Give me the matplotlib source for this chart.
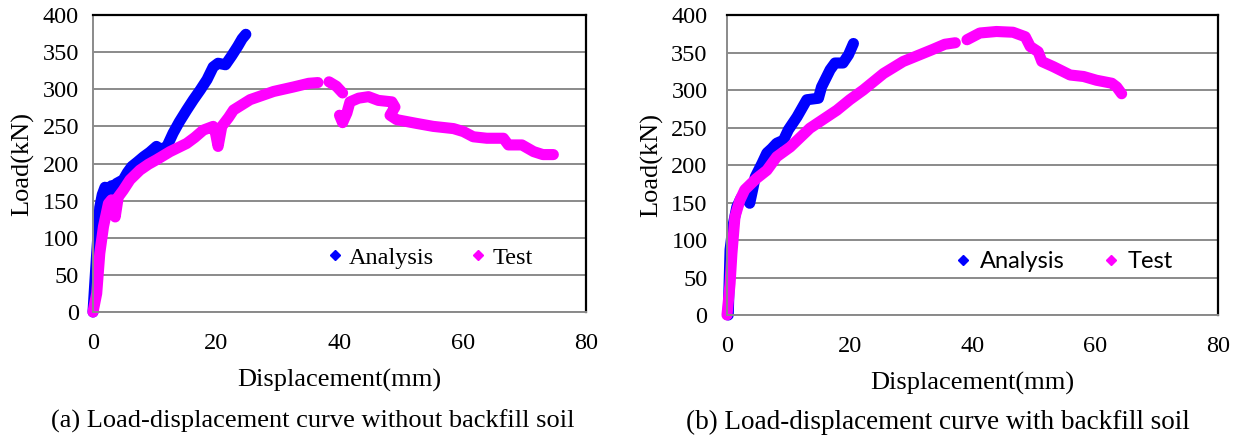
import matplotlib
matplotlib.use('Agg')
import matplotlib.pyplot as plt
import numpy as np
from matplotlib.lines import Line2D

nan = np.nan

# ---------------- data ----------------
x_ticks = [0, 20, 40, 60, 80]
y_ticks = [0, 50, 100, 150, 200, 250, 300, 350, 400]

# (a) without backfill soil
a_analysis_disp = [0, 0.3, 0.6, 1.1, 1.5, 1.95, 2.5, 3.0, 3.3, 3.8, 4.9, 5.6, 6.3, 7.2, 8.2,
                   9.2, 10.3, 11.0, 12.0, 13.0, 14.0, 15.2, 16.3, 17.4, 18.5, 19.5, 20.3,
                   21.5, 22.5, 23.5, 24.2, 24.8]
a_analysis_load = [0, 40, 79, 141, 158, 168, 160, 170, 162, 173, 178, 188, 196, 202, 209,
                   215, 223, 219, 223, 241, 256, 272, 286, 299, 313, 330, 335,
                   333, 345, 358, 368, 374]

a_test_disp = [0, 0.6, 1.1, 1.7, 2.5, 3.0, 3.4, 3.6, 4.1, 4.9, 6.0, 7.6, 9.0, 10.3, 12.5,
               15.2, 16.5, 17.9, 19.5, 19.9, 20.3, 20.9, 22.0, 22.8, 25.5, 29.3, 32.5,
               35.0, 36.5, nan, 38.3, 39.5, 40.5, nan, 40.0, 40.5, 41.2, 41.7, 43.1, 44.7,
               46.3, 48.5, 49.0, 48.2, 49.3, 52.5, 55.2, 58.5, 60.1, 61.7, 63.9, 66.6,
               67.4, 69.6, 71.5, 73.0, 74.7]
a_test_load = [0, 25, 79, 115, 146, 151, 140, 128, 155, 164, 178, 191, 199, 205, 216,
               227, 235, 245, 250, 240, 223, 250, 262, 272, 286, 297, 303,
               308, 309, nan, 310, 304, 295, nan, 265, 255, 268, 283, 288, 290,
               285, 283, 276, 265, 259, 254, 250, 247, 243, 236, 234, 234,
               225, 225, 216, 212, 212]

# (b) with backfill soil
b_analysis_disp = [0.2, 0.5, 1.0, 1.6, 2.3, 2.9, 3.3, 3.7, 4.2, 4.6, 5.7, 6.5, 7.3, 8.1,
                   9.2, 10.0, 11.4, 13.0, 14.9, 15.4, 16.8, 17.6, 18.9, 19.8, 20.6]
b_analysis_load = [0, 87, 120, 144, 156, 162, 155, 149, 168, 184, 202, 216, 222, 229,
                   233, 247, 264, 287, 289, 304, 327, 336, 336, 347, 362]

b_test_disp = [0, 0.5, 0.8, 1.3, 2.1, 2.9, 4.8, 6.5, 8.1, 10.3, 13.5, 17.9, 20.0, 22.2,
               25.5, 28.7, 31.4, 33.5, 35.5, 37.2, nan, 39.1, 41.2, 43.9, 46.6, 48.6,
               49.4, 50.7, 51.3, 53.2, 55.9, 58.1, 60.2, 62.7, 63.5, 64.3]
b_test_load = [0, 42, 82, 131, 153, 167, 182, 193, 211, 224, 249, 273, 287, 300,
               322, 338, 347, 354, 361, 363, nan, 367, 376, 378, 377, 371,
               358, 351, 338, 331, 320, 318, 313, 309, 304, 295]

series_names = ["Analysis", "Test"]
captions = ["(a) Load-displacement curve without backfill soil",
            "(b) Load-displacement curve with backfill soil"]
x_label = "Displacement(mm)"
y_label = "Load(kN)"

BLUE = '#0000FF'
MAGENTA = '#FF00FF'
SERIF = 'Liberation Serif'

W, H = 1239, 436
fig = plt.figure(figsize=(W / 100, H / 100), dpi=100)


def px_axes(x0, y0, x1, y1):
    return fig.add_axes([x0 / W, 1 - y1 / H, (x1 - x0) / W, (y1 - y0) / H])


def style(ax, ypad, xpad):
    ax.set_xlim(0, 80)
    ax.set_ylim(0, 400)
    ax.set_xticks(x_ticks)
    ax.set_yticks(y_ticks)
    ax.grid(axis='y', color='#8a8a8a', lw=1.4)
    ax.set_axisbelow(True)
    ax.tick_params(axis='both', length=0, labelsize=17.5)
    ax.tick_params(axis='y', pad=ypad)
    ax.tick_params(axis='x', pad=xpad)
    for lab in ax.get_xticklabels() + ax.get_yticklabels():
        lab.set_fontfamily(SERIF)
    for s in ['top', 'right']:
        ax.spines[s].set_color('black')
        ax.spines[s].set_linewidth(1.6)
    for s in ['left', 'bottom']:
        ax.spines[s].set_color('#8a8a8a')
        ax.spines[s].set_linewidth(1.4)
    ax.set_xlabel(x_label, fontfamily=SERIF, fontsize=19, labelpad=11)
    ax.set_ylabel(y_label, fontfamily=SERIF, fontsize=19, labelpad=6)


lw = 8
line_kw = dict(lw=lw, solid_capstyle='round', solid_joinstyle='round', clip_on=False)

ax1 = px_axes(93, 15, 586, 312)
style(ax1, 10, 15)
ax1.plot(a_analysis_disp, a_analysis_load, color=BLUE, **line_kw)
ax1.plot(a_test_disp, a_test_load, color=MAGENTA, **line_kw)

ax2 = px_axes(727, 15, 1218, 315)
style(ax2, 14, 15)
ax2.plot(b_analysis_disp, b_analysis_load, color=BLUE, **line_kw)
ax2.plot(b_test_disp, b_test_load, color=MAGENTA, **line_kw)

handles = [Line2D([], [], marker='D', color=BLUE, ls='none', markersize=5),
           Line2D([], [], marker='D', color=MAGENTA, ls='none', markersize=5)]

ax1.legend(handles, series_names, loc='center', bbox_to_anchor=(0.684, 0.182),
           ncol=2, frameon=False, handlelength=0.6, handletextpad=0.3,
           columnspacing=1.5, prop={'family': SERIF, 'size': 17.5})
ax2.legend(handles, series_names, loc='center', bbox_to_anchor=(0.688, 0.177),
           ncol=2, frameon=False, handlelength=0.6, handletextpad=0.4,
           columnspacing=1.68, prop={'family': 'Lato', 'size': 17})

fig.text(313 / W, 1 - 421.5 / H, captions[0], ha='center', va='center',
         fontfamily=SERIF, fontsize=19)
fig.text(938 / W, 1 - 422.5 / H, captions[1], ha='center', va='center',
         fontfamily=SERIF, fontsize=19.5)

fig.savefig('out.png', dpi=100)
